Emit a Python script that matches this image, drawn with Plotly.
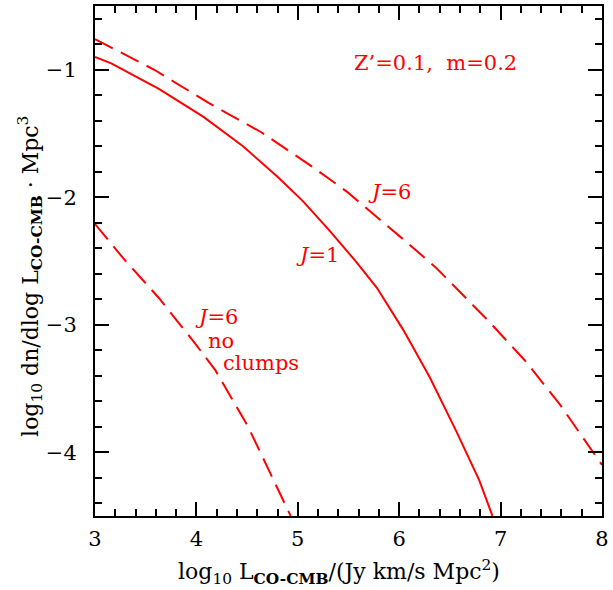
import plotly.graph_objects as go

# log10 L_CO-CMB grid and log10 dn/dlogL for each model
x_j1 = [3.00, 3.16, 3.63, 4.07, 4.46, 4.80, 5.05, 5.30, 5.58, 5.78, 6.04, 6.30, 6.56, 6.79, 6.92]
y_j1 = [-0.90, -0.95, -1.15, -1.37, -1.60, -1.84, -2.03, -2.25, -2.51, -2.71, -3.04, -3.41, -3.83, -4.22, -4.50]

x_j6 = [3.00, 3.585, 4.12, 4.64, 5.16, 5.49, 6.07, 6.36, 6.88, 7.24, 7.58, 8.00]
y_j6 = [-0.76, -1.00, -1.26, -1.49, -1.77, -1.96, -2.35, -2.55, -2.97, -3.28, -3.62, -4.10]

x_j6_noclump = [3.00, 3.28, 3.63, 3.99, 4.19, 4.51, 4.93]
y_j6_noclump = [-2.21, -2.48, -2.79, -3.15, -3.36, -3.80, -4.50]

x_ticks = [3, 4, 5, 6, 7, 8]
y_ticks = [-4, -3, -2, -1]
y_tick_text = ["\u22124", "\u22123", "\u22122", "\u22121"]

RED = "#ff0000"
FONT = "DejaVu Serif"

fig = go.Figure()
fig.add_trace(go.Scatter(x=x_j1, y=y_j1, mode="lines",
                         line=dict(color=RED, width=2)))
fig.add_trace(go.Scatter(x=x_j6, y=y_j6, mode="lines",
                         line=dict(color=RED, width=2, dash="20px,9px")))
fig.add_trace(go.Scatter(x=x_j6_noclump, y=y_j6_noclump, mode="lines",
                         line=dict(color=RED, width=2, dash="20px,9px")))

labels = [
    (6.36, -0.95, "Z\u2019=0.1,  m=0.2"),
    (5.90, -1.96, "<i>J</i>=6"),
    (5.19, -2.45, "<i>J</i>=1"),
    (4.20, -2.94, "<i>J</i>=6"),
    (4.24, -3.13, "no"),
    (4.64, -3.30, "clumps"),
]
for lx, ly, txt in labels:
    fig.add_annotation(x=lx, y=ly, text=txt, showarrow=False,
                       font=dict(family=FONT, size=21, color=RED))

# axis titles placed as paper-anchored annotations
title_font = dict(family=FONT, size=22, color="black")
fig.add_annotation(xref="paper", yref="paper", x=0.482, y=-0.109,
                   xanchor="center", yanchor="middle", showarrow=False,
                   text="log<sub>10</sub> L<sub><b>CO-CMB</b></sub>/(Jy km/s Mpc<sup>2</sup>)",
                   font=title_font)
fig.add_annotation(xref="paper", yref="paper", x=-0.127, y=0.47,
                   xanchor="center", yanchor="middle", showarrow=False, textangle=-90,
                   text="log<sub>10</sub> dn/dlog L<sub><b>CO-CMB</b></sub> \u00b7 Mpc<sup>3</sup>",
                   font=title_font)

axis_common = dict(
    showline=True, linecolor="black", linewidth=2, mirror="ticks",
    ticks="inside", ticklen=14, tickwidth=1.5, tickcolor="black",
    showgrid=False, zeroline=False, ticklabeloverflow="allow",
    tickfont=dict(family=FONT, size=21, color="black"),
    minor=dict(ticks="inside", ticklen=7, tickwidth=1.5, tickcolor="black",
               dtick=0.2, showgrid=False),
)

fig.update_xaxes(range=[3, 8], tickvals=x_ticks, ticktext=[str(v) for v in x_ticks],
                 ticklabelstandoff=3, **axis_common)
fig.update_yaxes(range=[-4.5, -0.5], tickvals=y_ticks, ticktext=y_tick_text,
                 ticklabelstandoff=12, **axis_common)

fig.update_layout(
    width=613, height=590,
    margin=dict(l=95, r=6, t=4, b=74),
    paper_bgcolor="white", plot_bgcolor="white",
    showlegend=False,
)

fig.write_html("out.html")
